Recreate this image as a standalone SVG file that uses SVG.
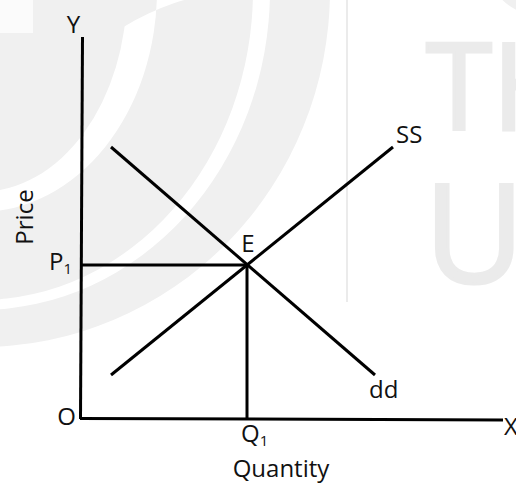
<svg xmlns="http://www.w3.org/2000/svg" width="516" height="484" viewBox="0 0 516 484">
  <style>
    .wm { fill: #f0f0f0; fill-rule: evenodd; }
    .wmtext { fill: #ebebeb; stroke: #ebebeb; stroke-width: 3; font-family: "Open Sans", "Liberation Sans", sans-serif; }
    .ln { stroke: #000; stroke-width: 3; fill: none; stroke-linecap: butt; }
    .lbl { font-family: "Open Sans", "Liberation Sans", sans-serif; font-size: 24px; fill: #111; }
    .sub { font-size: 15px; }
  </style>
  <rect width="516" height="484" fill="#ffffff"/>
  <g id="watermark">
    <ellipse class="wm" cx="-20" cy="-10" rx="147" ry="202"/>
    <rect x="0" y="0" width="33" height="33" fill="#fbfbfb"/>
    <path class="wm" d="M253,-10 A273,310 0 0 1 -20,300 A273,310 0 0 1 253,-10 Z M157,-10 A177,222 0 0 1 -20,212 A177,222 0 0 1 157,-10 Z"/>
    <path class="wm" d="M330,-10 A350,357 0 0 1 -20,347 L-20,310 A290,320 0 0 0 270,-10 Z"/>
    <circle class="wm" cx="545" cy="-45" r="62"/>
    <line x1="347" y1="0" x2="347" y2="302" stroke="#e4e4e4" stroke-width="1.5"/>
    <text class="wmtext" x="426" y="130" font-size="120">TH</text>
    <text class="wmtext" x="424" y="283" font-size="138">U</text>
  </g>
  <g id="connectors">
    <path id="y-axis" class="ln" d="M82.5,37 L80.5,419"/>
    <path id="x-axis" class="ln" d="M80,418.5 L503,420"/>
    <path id="p1-line" class="ln" d="M81,265 L247,265"/>
    <path id="q1-line" class="ln" d="M247,265 L247,419"/>
    <path id="demand" class="ln" d="M111,147 L375,375"/>
    <path id="supply" class="ln" d="M111,375 L393,147"/>
  </g>
  <g id="label-Y"><text class="lbl" x="73.5" y="33" text-anchor="middle">Y</text></g>
  <g id="label-O"><text class="lbl" x="66.5" y="425" text-anchor="middle">O</text></g>
  <g id="label-X"><text class="lbl" x="504" y="435">X</text></g>
  <g id="label-P1"><text class="lbl" x="49" y="270">P<tspan class="sub" dy="4">1</tspan></text></g>
  <g id="label-E"><text class="lbl" x="248" y="252" text-anchor="middle">E</text></g>
  <g id="label-Q1"><text class="lbl" x="241" y="442">Q<tspan class="sub" dy="4">1</tspan></text></g>
  <g id="label-SS"><text class="lbl" x="396" y="143">SS</text></g>
  <g id="label-dd"><text class="lbl" x="369" y="398">dd</text></g>
  <g id="label-Quantity"><text class="lbl" x="281" y="477" text-anchor="middle">Quantity</text></g>
  <g id="label-Price"><text class="lbl" x="33" y="217" text-anchor="middle" transform="rotate(-90 33 217)">Price</text></g>
</svg>
